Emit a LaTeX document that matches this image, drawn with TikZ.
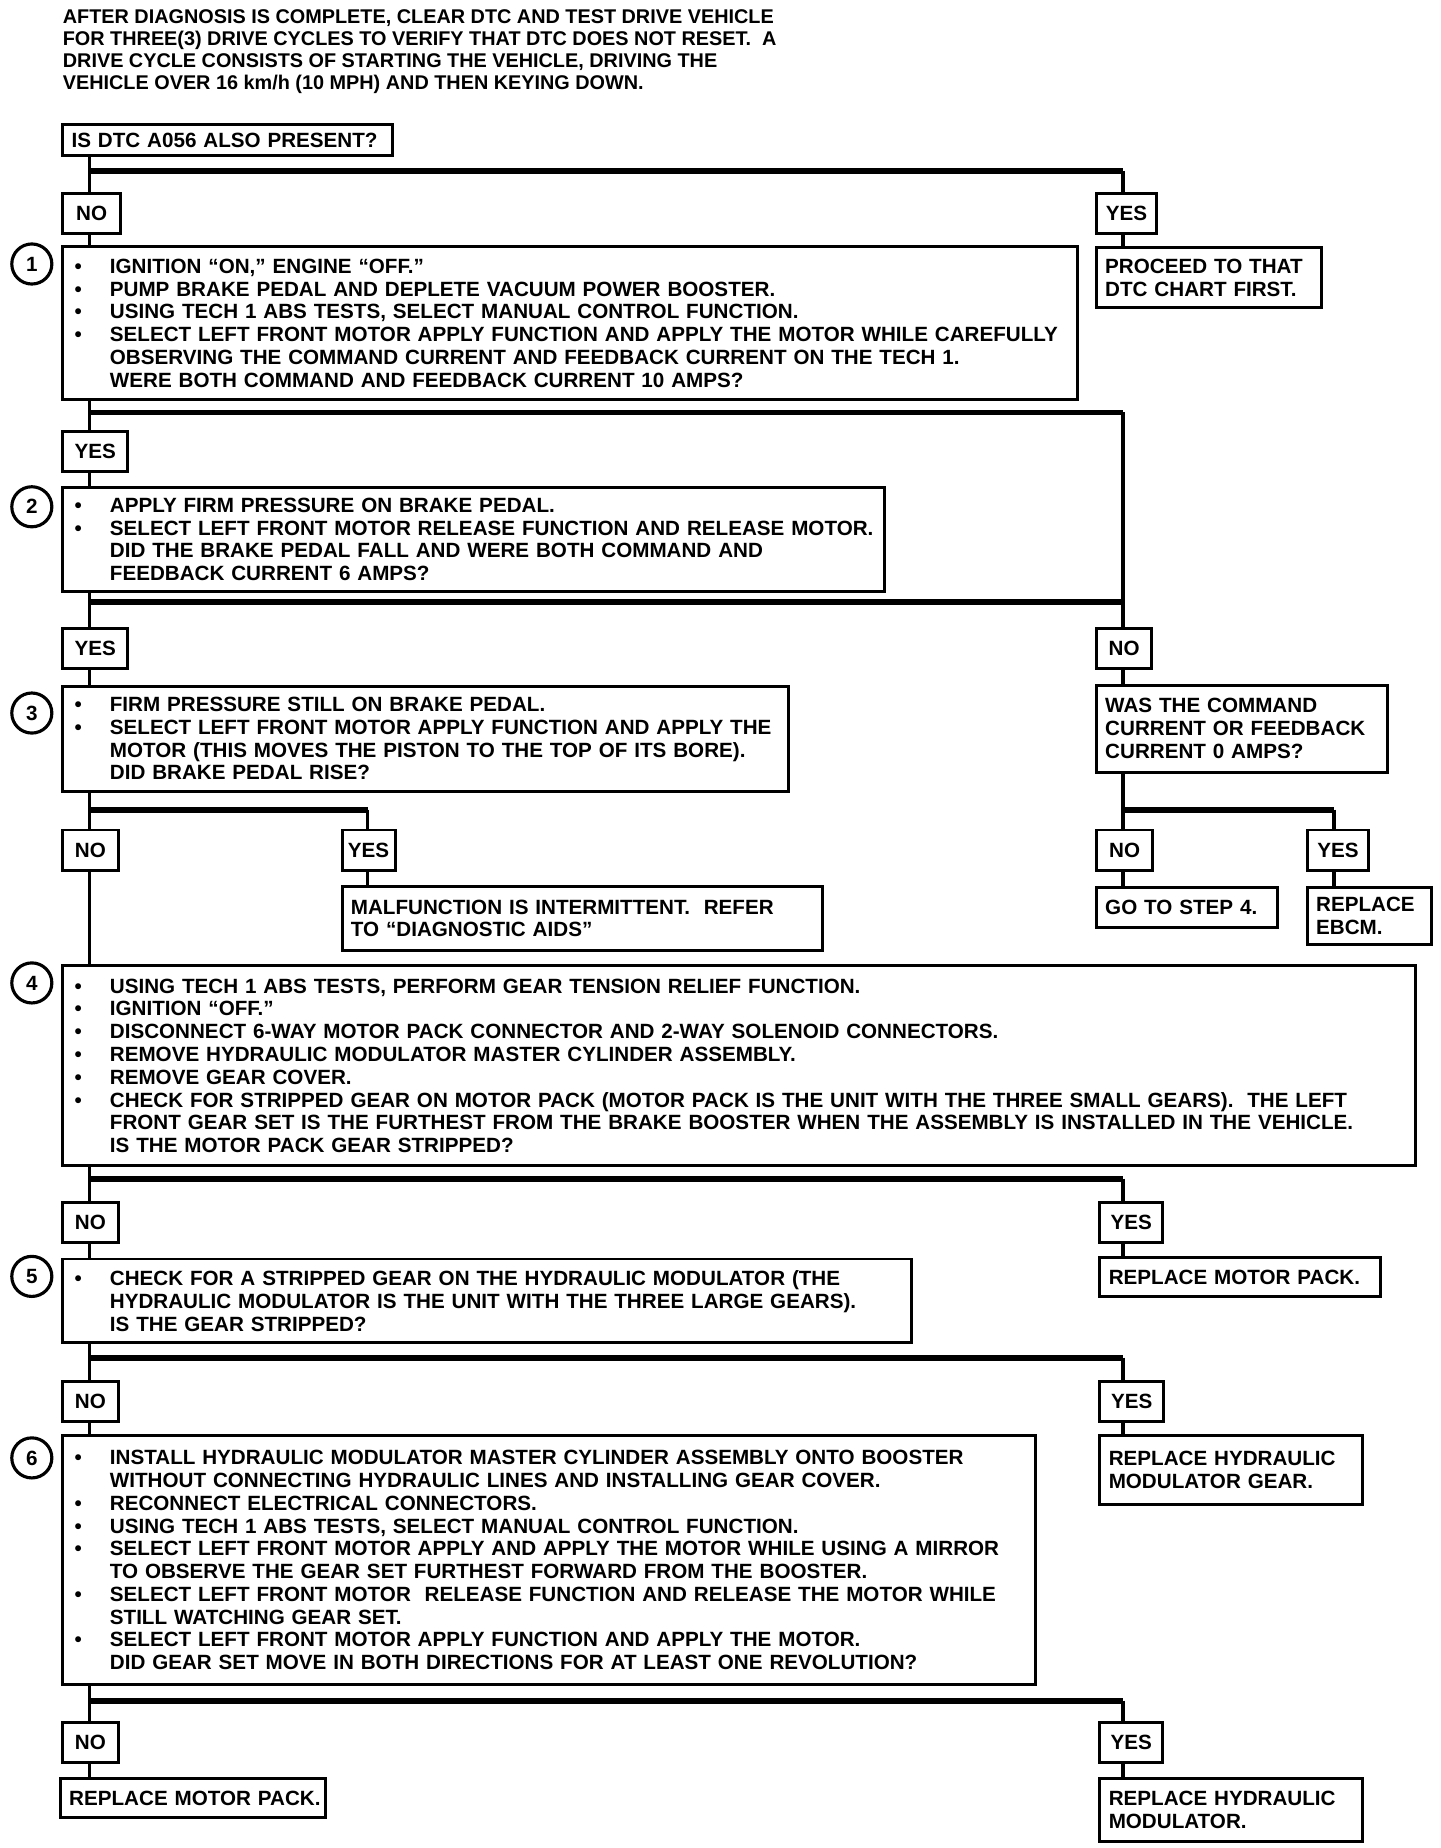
\documentclass[tikz,border=0pt]{standalone}
\usepackage{fontspec}
\setmainfont{Liberation Sans}

\newcommand{\itm}[1]{\mbox{\makebox[19.5pt][l]{\hspace{1.5pt}\textbullet}#1}}
\newcommand{\cnt}[1]{\mbox{\hspace*{19.5pt}#1}}

\begin{document}
\begin{tikzpicture}[x=0.6pt, y=-0.6pt,
    every node/.style={font={\bfseries\fontsize{10.5}{11.6}\selectfont}},
    box/.style={draw, line width=1.5pt, anchor=north west, align=left, inner xsep=4.5pt, inner ysep=2pt},
    tag/.style={draw, line width=1.5pt, anchor=north west, minimum height=20.4pt, inner sep=0pt},
    num/.style={draw, circle, line width=1.6pt, minimum size=20.4pt, inner sep=0pt},
    vline/.style={line width=1.8pt},
    hbar/.style={line width=3pt}]
    \path[use as bounding box, fill=white] (0,0) rectangle (1222,1568);

    \coordinate (ls) at (76,0);
    \coordinate (rs) at (953,0);
    \coordinate (ms) at (312,0);
    \coordinate (es) at (1132,0);
    \coordinate (b0) at (0,145);
    \coordinate (b1) at (0,350);
    \coordinate (b2) at (0,511);
    \coordinate (b3) at (0,687);
    \coordinate (b4) at (0,1000);
    \coordinate (b5) at (0,1152);
    \coordinate (b6) at (0,1443);

    \node[anchor=north west, align=left, inner sep=0pt,
        font={\bfseries\fontsize{10.1}{11.2}\selectfont}] (head) at (53,8)
        {AFTER DIAGNOSIS IS COMPLETE, CLEAR DTC AND TEST DRIVE VEHICLE\\
         FOR THREE(3) DRIVE CYCLES TO VERIFY THAT DTC DOES NOT RESET.\ \ A\\
         DRIVE CYCLE CONSISTS OF STARTING THE VEHICLE, DRIVING THE\\
         VEHICLE OVER 16 km/h (10 MPH) AND THEN KEYING DOWN.};

    \node[box, text width=159pt, minimum height=16.2pt] (q0) at (52,104) {\mbox{IS DTC A056 ALSO PRESENT?}};

    \node[tag, minimum width=29.4pt] (no0) at (52,163) {NO};
    \node[tag, minimum width=30.6pt] (yes0) at (929,163) {YES};

    \node[box, text width=507.6pt, minimum height=78pt] (s1) at (52,208)
        {\itm{IGNITION “ON,” ENGINE “OFF.”}\\
         \itm{PUMP BRAKE PEDAL AND DEPLETE VACUUM POWER BOOSTER.}\\
         \itm{USING TECH 1 ABS TESTS, SELECT MANUAL CONTROL FUNCTION.}\\
         \itm{SELECT LEFT FRONT MOTOR APPLY FUNCTION AND APPLY THE MOTOR WHILE CAREFULLY}\\
         \cnt{OBSERVING THE COMMAND CURRENT AND FEEDBACK CURRENT ON THE TECH 1.}\\
         \cnt{WERE BOTH COMMAND AND FEEDBACK CURRENT 10 AMPS?}};
    \node[box, text width=105.6pt, minimum height=30.6pt] (proceed) at (929,209)
        {PROCEED TO THAT\\ DTC CHART FIRST.};

    \node[tag, minimum width=33pt] (yes1) at (52,365) {YES};

    \node[box, text width=409.2pt, minimum height=53.4pt] (s2) at (52,412)
        {\itm{APPLY FIRM PRESSURE ON BRAKE PEDAL.}\\
         \itm{SELECT LEFT FRONT MOTOR RELEASE FUNCTION AND RELEASE MOTOR.}\\
         \cnt{DID THE BRAKE PEDAL FALL AND WERE BOTH COMMAND AND}\\
         \cnt{FEEDBACK CURRENT 6 AMPS?}};

    \node[tag, minimum width=33pt] (yes2) at (52,532) {YES};
    \node[tag, minimum width=28.2pt] (no2) at (929,532) {NO};

    \node[box, text width=360.6pt, minimum height=53.4pt] (s3) at (52,581)
        {\itm{FIRM PRESSURE STILL ON BRAKE PEDAL.}\\
         \itm{SELECT LEFT FRONT MOTOR APPLY FUNCTION AND APPLY THE}\\
         \cnt{MOTOR (THIS MOVES THE PISTON TO THE TOP OF ITS BORE).}\\
         \cnt{DID BRAKE PEDAL RISE?}};
    \node[box, text width=139.2pt, minimum height=44.4pt] (was) at (929,580)
        {WAS THE COMMAND\\ CURRENT OR FEEDBACK\\ CURRENT 0 AMPS?};

    \node[tag, minimum width=28.2pt] (no3) at (52,703) {NO};
    \node[tag, minimum width=27pt] (yes3) at (289,703) {YES};
    \node[tag, minimum width=28.8pt] (no7) at (929,703) {NO};
    \node[tag, minimum width=31.2pt] (yes7) at (1108,703) {YES};

    \node[box, text width=235.8pt, minimum height=32.4pt] (malf) at (289,751)
        {MALFUNCTION IS INTERMITTENT.\ \ REFER\\ TO “DIAGNOSTIC AIDS”};
    \node[box, text width=83.4pt, minimum height=20.4pt] (goto) at (929,752) {\mbox{GO TO STEP 4.}};
    \node[box, text width=54pt, minimum height=28.8pt] (ebcm) at (1108,752) {REPLACE\\ EBCM.};

    \node[box, text width=679.8pt, minimum height=102pt] (s4) at (52,818)
        {\itm{USING TECH 1 ABS TESTS, PERFORM GEAR TENSION RELIEF FUNCTION.}\\
         \itm{IGNITION “OFF.”}\\
         \itm{DISCONNECT 6-WAY MOTOR PACK CONNECTOR AND 2-WAY SOLENOID CONNECTORS.}\\
         \itm{REMOVE HYDRAULIC MODULATOR MASTER CYLINDER ASSEMBLY.}\\
         \itm{REMOVE GEAR COVER.}\\
         \itm{CHECK FOR STRIPPED GEAR ON MOTOR PACK (MOTOR PACK IS THE UNIT WITH THE THREE SMALL GEARS).\ \ THE LEFT}\\
         \cnt{FRONT GEAR SET IS THE FURTHEST FROM THE BRAKE BOOSTER WHEN THE ASSEMBLY IS INSTALLED IN THE VEHICLE.}\\
         \cnt{IS THE MOTOR PACK GEAR STRIPPED?}};

    \node[tag, minimum width=28.2pt] (no4) at (52,1019) {NO};
    \node[tag, minimum width=31.8pt] (yes4) at (932,1019) {YES};

    \node[box, text width=423pt, minimum height=42.6pt] (s5) at (52,1067)
        {\itm{CHECK FOR A STRIPPED GEAR ON THE HYDRAULIC MODULATOR (THE}\\
         \cnt{HYDRAULIC MODULATOR IS THE UNIT WITH THE THREE LARGE GEARS).}\\
         \cnt{IS THE GEAR STRIPPED?}};
    \node[box, text width=133.8pt, minimum height=19.8pt] (rmp1) at (932,1066) {\mbox{REPLACE MOTOR PACK.}};

    \node[tag, minimum width=28.2pt] (no5) at (52,1171) {NO};
    \node[tag, minimum width=32.4pt] (yes5) at (932,1171) {YES};

    \node[box, text width=486pt, minimum height=126.6pt] (s6) at (52,1217)
        {\itm{INSTALL HYDRAULIC MODULATOR MASTER CYLINDER ASSEMBLY ONTO BOOSTER}\\
         \cnt{WITHOUT CONNECTING HYDRAULIC LINES AND INSTALLING GEAR COVER.}\\
         \itm{RECONNECT ELECTRICAL CONNECTORS.}\\
         \itm{USING TECH 1 ABS TESTS, SELECT MANUAL CONTROL FUNCTION.}\\
         \itm{SELECT LEFT FRONT MOTOR APPLY AND APPLY THE MOTOR WHILE USING A MIRROR}\\
         \cnt{TO OBSERVE THE GEAR SET FURTHEST FORWARD FROM THE BOOSTER.}\\
         \itm{SELECT LEFT FRONT MOTOR\ \ RELEASE FUNCTION AND RELEASE THE MOTOR WHILE}\\
         \cnt{STILL WATCHING GEAR SET.}\\
         \itm{SELECT LEFT FRONT MOTOR APPLY FUNCTION AND APPLY THE MOTOR.}\\
         \cnt{DID GEAR SET MOVE IN BOTH DIRECTIONS FOR AT LEAST ONE REVOLUTION?}};
    \node[box, text width=124.8pt, minimum height=34.8pt] (rhmg) at (932,1217)
        {REPLACE HYDRAULIC\\ MODULATOR GEAR.};

    \node[tag, minimum width=28.2pt] (no6) at (52,1460) {NO};
    \node[tag, minimum width=31.8pt] (yes6) at (932,1460) {YES};

    \node[box, text width=126pt, minimum height=19.8pt] (rmp2) at (50,1508) {\mbox{REPLACE MOTOR PACK.}};
    \node[box, text width=124.8pt, minimum height=31.8pt] (rhm) at (932,1508)
        {REPLACE HYDRAULIC\\ MODULATOR.};

    \node[num] (n1) at (27,224) {1};
    \node[num] (n2) at (27,430) {2};
    \node[num] (n3) at (27,605) {3};
    \node[num] (n4) at (27,834) {4};
    \node[num] (n5) at (27,1083) {5};
    \node[num] (n6) at (27,1237) {6};

    \draw[vline] (q0.south -| ls) -- (no0.north -| ls);
    \draw[hbar] (b0 -| ls) -- (b0 -| rs);
    \draw[vline] (b0 -| rs) -- (yes0.north -| rs);
    \draw[vline] (no0.south -| ls) -- (s1.north -| ls);
    \draw[vline] (yes0.south -| rs) -- (proceed.north -| rs);

    \draw[vline] (s1.south -| ls) -- (yes1.north -| ls);
    \draw[hbar] (b1 -| ls) -- (b1 -| rs);
    \draw[vline] (b1 -| rs) -- (no2.north -| rs);
    \draw[vline] (yes1.south -| ls) -- (s2.north -| ls);
    \draw[vline] (s2.south -| ls) -- (yes2.north -| ls);
    \draw[hbar] (b2 -| ls) -- (b2 -| rs);
    \draw[vline] (yes2.south -| ls) -- (s3.north -| ls);
    \draw[vline] (no2.south -| rs) -- (was.north -| rs);

    \draw[vline] (s3.south -| ls) -- (no3.north -| ls);
    \draw[hbar] (b3 -| ls) -- (b3 -| ms);
    \draw[vline] (b3 -| ms) -- (yes3.north -| ms);
    \draw[vline] (yes3.south -| ms) -- (malf.north -| ms);
    \draw[vline] (no3.south -| ls) -- (s4.north -| ls);

    \draw[vline] (was.south -| rs) -- (no7.north -| rs);
    \draw[hbar] (b3 -| rs) -- (b3 -| es);
    \draw[vline] (b3 -| es) -- (yes7.north -| es);
    \draw[vline] (no7.south -| rs) -- (goto.north -| rs);
    \draw[vline] (yes7.south -| es) -- (ebcm.north -| es);

    \draw[vline] (s4.south -| ls) -- (no4.north -| ls);
    \draw[hbar] (b4 -| ls) -- (b4 -| rs);
    \draw[vline] (b4 -| rs) -- (yes4.north -| rs);
    \draw[vline] (no4.south -| ls) -- (s5.north -| ls);
    \draw[vline] (yes4.south -| rs) -- (rmp1.north -| rs);

    \draw[vline] (s5.south -| ls) -- (no5.north -| ls);
    \draw[hbar] (b5 -| ls) -- (b5 -| rs);
    \draw[vline] (b5 -| rs) -- (yes5.north -| rs);
    \draw[vline] (no5.south -| ls) -- (s6.north -| ls);
    \draw[vline] (yes5.south -| rs) -- (rhmg.north -| rs);

    \draw[vline] (s6.south -| ls) -- (no6.north -| ls);
    \draw[hbar] (b6 -| ls) -- (b6 -| rs);
    \draw[vline] (b6 -| rs) -- (yes6.north -| rs);
    \draw[vline] (no6.south -| ls) -- (rmp2.north -| ls);
    \draw[vline] (yes6.south -| rs) -- (rhm.north -| rs);
\end{tikzpicture}
\end{document}
